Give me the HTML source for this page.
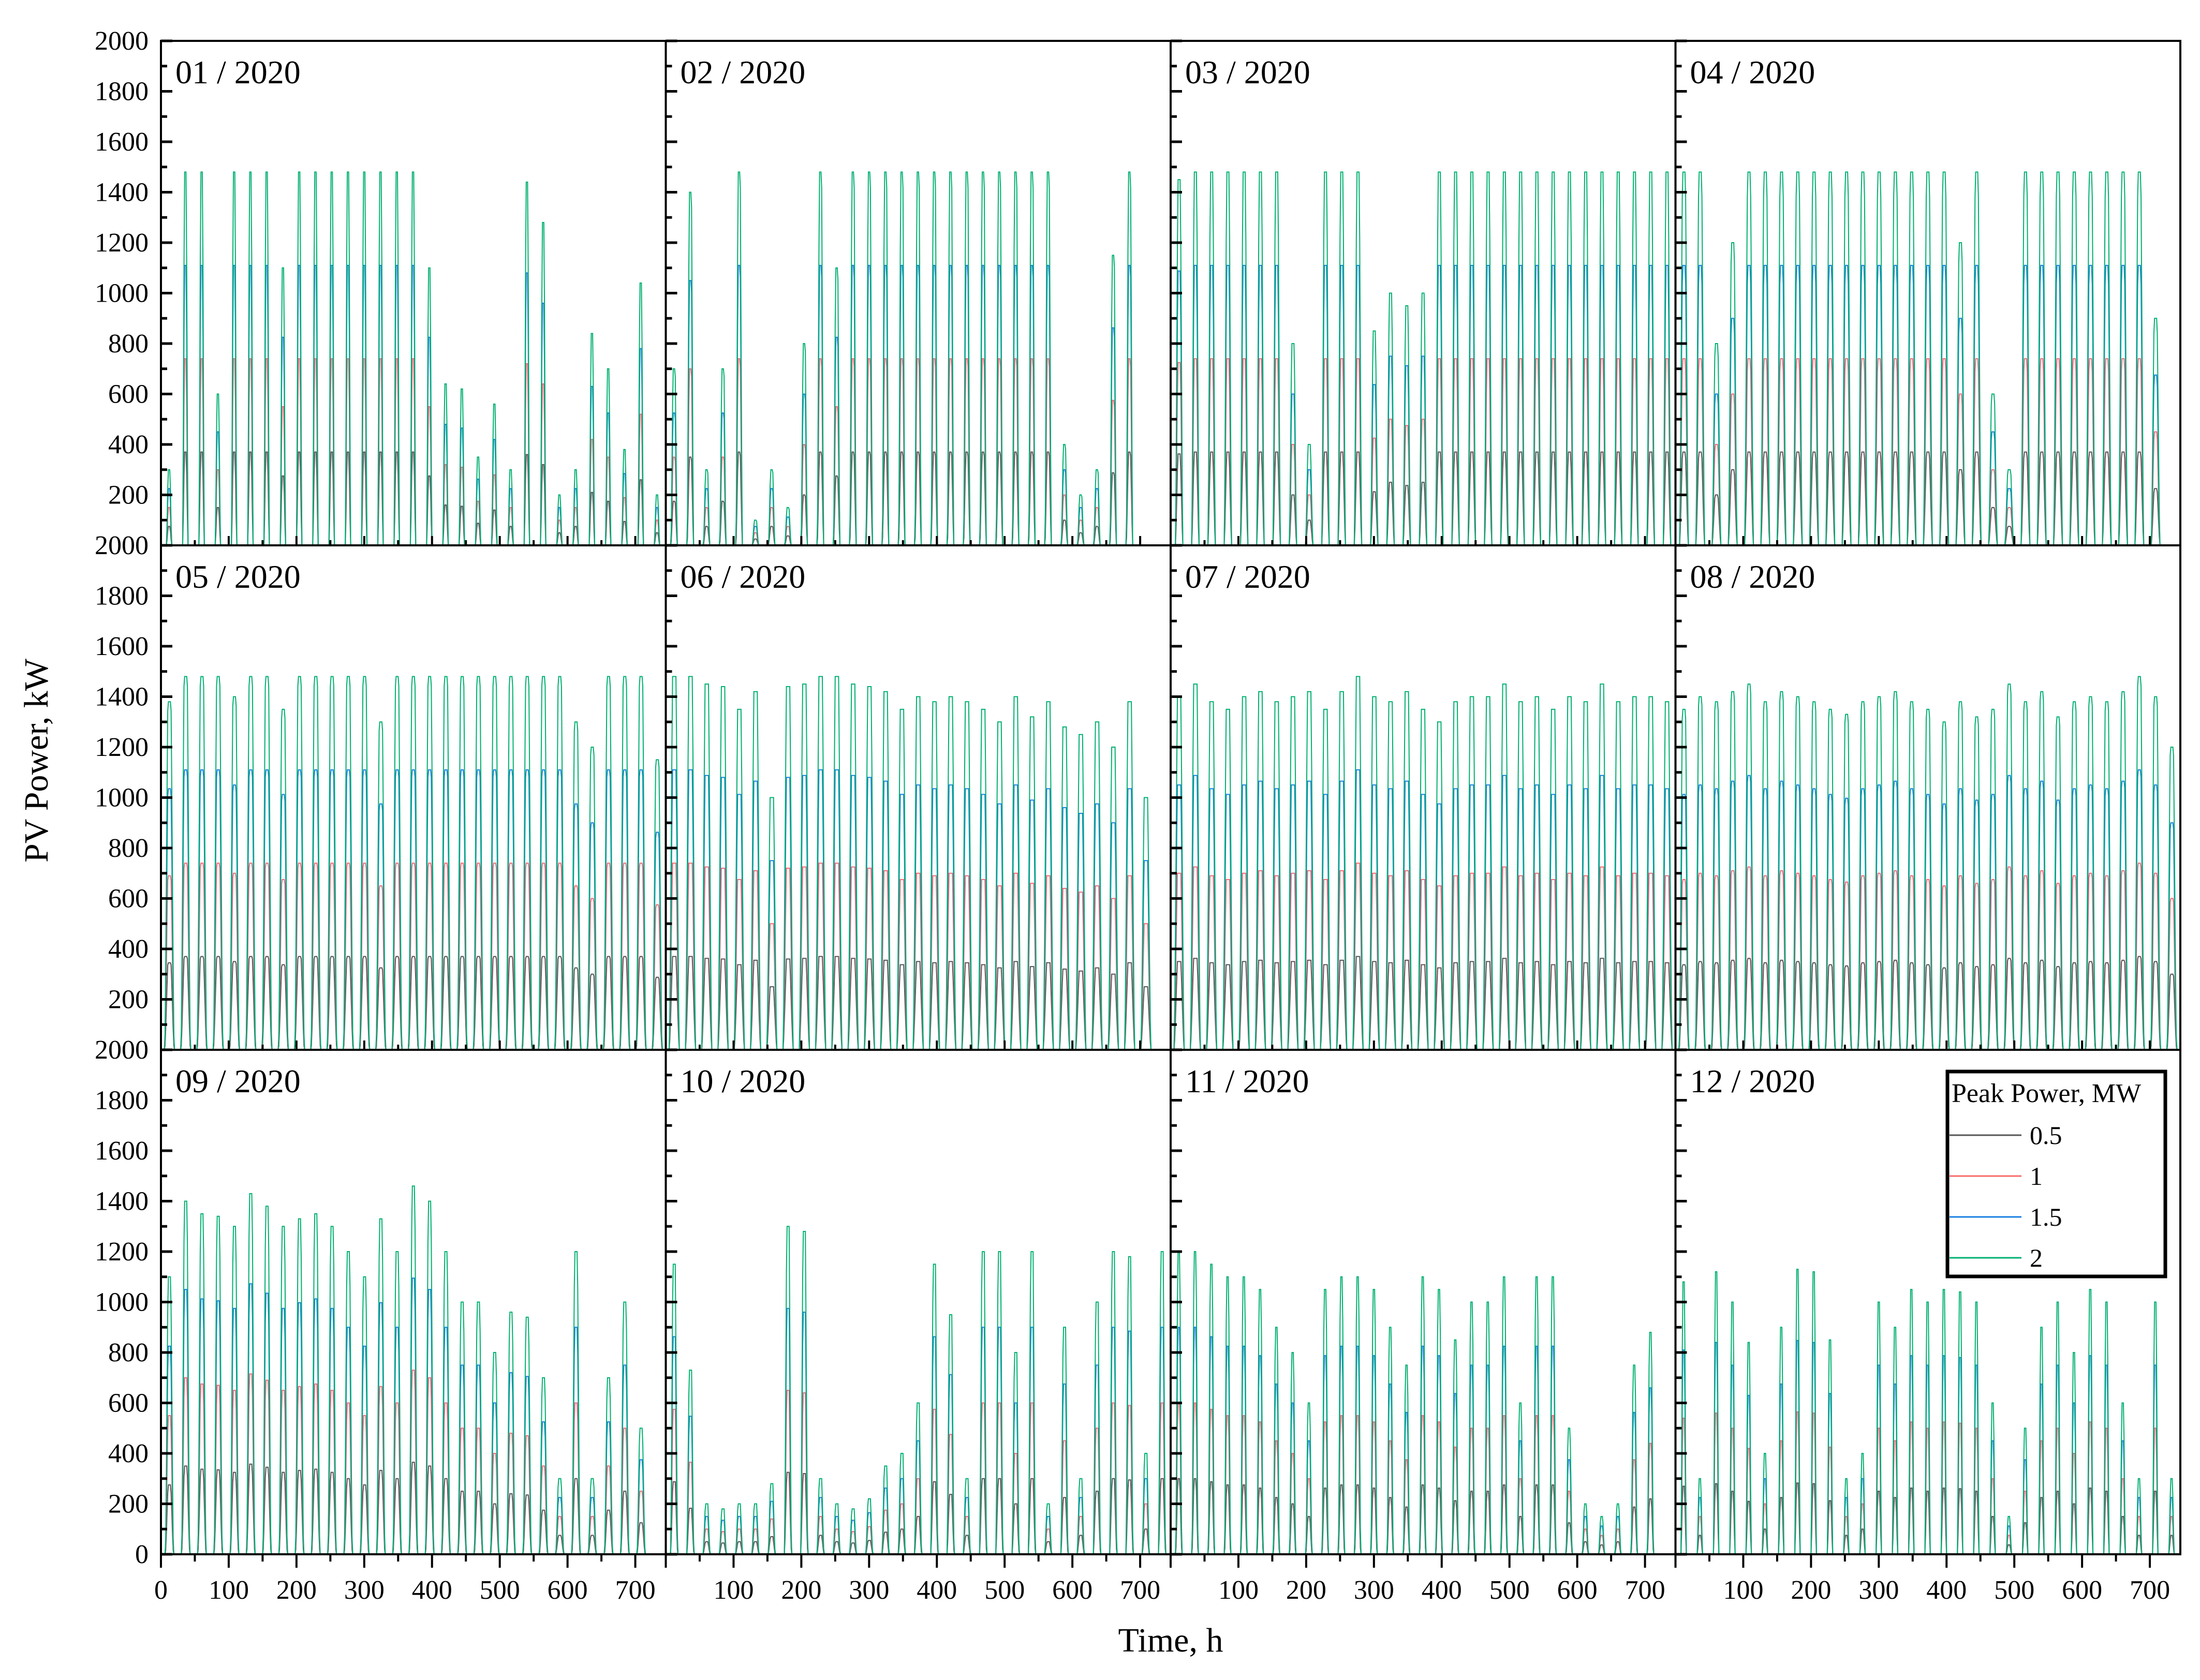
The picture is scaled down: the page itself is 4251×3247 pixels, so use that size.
<!DOCTYPE html>
<html><head><meta charset="utf-8">
<style>
html,body{margin:0;padding:0;background:#fff;}
svg{display:block;font-family:"Liberation Serif",serif;}
</style></head>
<body>
<svg id="chart" width="4251" height="3247" viewBox="0 0 4251 3247" xmlns="http://www.w3.org/2000/svg">
<rect x="0" y="0" width="4251" height="3247" fill="#fff"/>
<g id="plots"></g>
<g id="axes"></g>
<text x="0" y="0" transform="translate(92,1470) rotate(-90)" text-anchor="middle" font-size="66">PV Power, kW</text>
<text x="2262" y="3192" text-anchor="middle" font-size="66">Time, h</text>
<g>
<rect x="3763" y="2071" width="421" height="396" fill="#fff" stroke="#000" stroke-width="7"/>
<text x="3771" y="2130" font-size="52">Peak Power, MW</text>
<line x1="3767" y1="2194" x2="3906" y2="2194" stroke="#555" stroke-width="3"/>
<text x="3922" y="2211" font-size="50">0.5</text>
<line x1="3767" y1="2273" x2="3906" y2="2273" stroke="#f56b6b" stroke-width="3"/>
<text x="3922" y="2290" font-size="50">1</text>
<line x1="3767" y1="2352" x2="3906" y2="2352" stroke="#1a7fe0" stroke-width="3"/>
<text x="3922" y="2369" font-size="50">1.5</text>
<line x1="3767" y1="2431" x2="3906" y2="2431" stroke="#00b070" stroke-width="3"/>
<text x="3922" y="2448" font-size="50">2</text>
</g>
</svg>
<script>
// ---- data ----
const monthLabels = ["01 / 2020","02 / 2020","03 / 2020","04 / 2020","05 / 2020","06 / 2020","07 / 2020","08 / 2020","09 / 2020","10 / 2020","11 / 2020","12 / 2020"];
const seriesMW = [0.5, 1, 1.5, 2];
const seriesColors = ["#555555","#f56b6b","#1a7fe0","#00b070"];
// daily peak power of the 2 MW plant, kW
const peaks01 = [300,1480,1480,600,1480,1480,1480,1100,1480,1480,1480,1480,1480,1480,1480,1480,1100,640,620,350,560,300,1440,1280,200,300,840,700,380,1040,200];
const peaks02 = [700,1400,300,700,1480,100,300,150,800,1480,1100,1480,1480,1480,1480,1480,1480,1480,1480,1480,1480,1480,1480,1480,400,200,300,1150,1480];
const peaks03 = [1450,1480,1480,1480,1480,1480,1480,800,400,1480,1480,1480,850,1000,950,1000,1480,1480,1480,1480,1480,1480,1480,1480,1480,1480,1480,1480,1480,1480,1480];
const peaks04 = [1480,1480,800,1200,1480,1480,1480,1480,1480,1480,1480,1480,1480,1480,1480,1480,1480,1200,1480,600,300,1480,1480,1480,1480,1480,1480,1480,1480,900];
const peaks05 = [1380,1480,1480,1480,1400,1480,1480,1350,1480,1480,1480,1480,1480,1300,1480,1480,1480,1480,1480,1480,1480,1480,1480,1480,1480,1300,1200,1480,1480,1480,1150];
const peaks06 = [1480,1480,1450,1440,1350,1420,1000,1440,1450,1480,1480,1450,1440,1420,1350,1400,1380,1400,1380,1350,1300,1400,1320,1380,1280,1250,1300,1200,1380,1000];
const peaks07 = [1400,1450,1380,1350,1400,1420,1380,1400,1420,1350,1420,1480,1400,1380,1420,1350,1300,1380,1400,1400,1450,1380,1400,1350,1400,1380,1450,1380,1400,1400,1380];
const peaks08 = [1350,1400,1380,1420,1450,1380,1420,1400,1380,1350,1330,1380,1400,1420,1380,1350,1300,1380,1320,1350,1450,1380,1420,1320,1380,1400,1380,1420,1480,1400,1200];
const peaks09 = [1100,1400,1350,1340,1300,1430,1380,1300,1330,1350,1300,1200,1100,1330,1200,1460,1400,1200,1000,1000,800,960,940,700,300,1200,300,700,1000,500];
const peaks10 = [1150,730,200,180,200,200,280,1300,1280,300,200,180,220,350,400,600,1150,950,300,1200,1200,800,1200,200,900,300,1000,1200,1180,400,1200];
const peaks11 = [1200,1200,1150,1100,1100,1050,900,800,600,1050,1100,1100,1050,900,750,1100,1050,850,1000,1000,1100,600,1100,1100,500,200,150,200,750,880];
const peaks12 = [1080,300,1120,1000,840,400,900,1130,1120,850,300,400,1000,900,1050,1000,1050,1040,1000,600,150,500,900,1000,800,1050,1000,600,300,1000,300];
const monthPeaks = [peaks01,peaks02,peaks03,peaks04,peaks05,peaks06,peaks07,peaks08,peaks09,peaks10,peaks11,peaks12];
const sunrise = [8,7.5,7,6,5.5,5,5,5.5,6.5,7,7.5,8];
const sunset = [16,17,18,19,19.5,20,20,19.5,18.5,17.5,16.5,16];
const yTicks = [0,200,400,600,800,1000,1200,1400,1600,1800,2000];
const xTicks = [0,100,200,300,400,500,600,700];

// ---- layout ----
const NS="http://www.w3.org/2000/svg";
const L=311, T=79, PW=975.5, PH=975, XMAX=745, YMAX=2000;
const plots=document.getElementById('plots'), axes=document.getElementById('axes');
function mk(tag,attrs,parent){const e=document.createElementNS(NS,tag);for(const k in attrs)e.setAttribute(k,attrs[k]);parent.appendChild(e);return e;}

for(let m=0;m<12;m++){
  const c=m%4, r=Math.floor(m/4);
  const x0=L+c*PW, y0=T+r*PH;
  const xs=h=>x0+h/XMAX*PW;
  const ys=v=>y0+PH-v/YMAX*PH;
  const g=mk('g',{},plots);
  
  
  const peaks=monthPeaks[m];
  for(let s=0;s<seriesMW.length;s++){
    const k=seriesMW[s]/2;
    const pts=[];
    for(let d=0;d<peaks.length;d++){
      for(let h=0;h<24;h++){
        const t=d*24+h;
        let v=0;
        if(h>sunrise[m]&&h<sunset[m]){
          const ph=(h-sunrise[m])/(sunset[m]-sunrise[m]);
          v=Math.min(1,1.25*Math.pow(Math.sin(Math.PI*ph),1.5))*peaks[d]*k;
        }
        if(h===Math.round((sunrise[m]+sunset[m])/2)) v=peaks[d]*k;
        pts.push(xs(t).toFixed(1)+','+ys(v).toFixed(1));
      }
    }
    const pl=mk('polyline',{points:pts.join(' '),fill:'none',stroke:seriesColors[s],'stroke-width':2},g);
    
    
  }
  const fr=mk('rect',{x:x0,y:y0,width:PW,height:PH,fill:'none',stroke:'#000','stroke-width':4},axes);
  
  
  const tt=mk('text',{x:x0+28,y:y0+82,'font-size':64},axes);
  tt.textContent=monthLabels[m];
  
  
  for(let v=0;v<=YMAX;v+=100){
    const major=v%200===0;
    mk('line',{x1:x0,x2:x0+(major?22:12),y1:ys(v),y2:ys(v),stroke:'#000','stroke-width':5},axes);
  }
  for(let h=0;h<=XMAX;h+=50){
    const major=h%100===0;
    if(r===2) mk('line',{x1:xs(h),x2:xs(h),y1:y0+PH,y2:y0+PH+(major?26:14),stroke:'#000','stroke-width':4},axes);
    else mk('line',{x1:xs(h),x2:xs(h),y1:y0+PH,y2:y0+PH-(major?18:10),stroke:'#000','stroke-width':4},axes);
  }
  if(c===0){
    for(const v of yTicks){
      if(v===0&&r<2) continue;
      const tl=mk('text',{x:287,y:ys(v)+17,'text-anchor':'end','font-size':52},axes);
      tl.textContent=String(v);
      
      
    }
  }
  if(r===2){
    for(const h of xTicks){
      if(h===0&&c>0) continue;
      const xl=mk('text',{x:xs(h),y:3090,'text-anchor':'middle','font-size':52},axes);
      xl.textContent=String(h);
      
      
    }
  }
}
</script>
</body></html>
